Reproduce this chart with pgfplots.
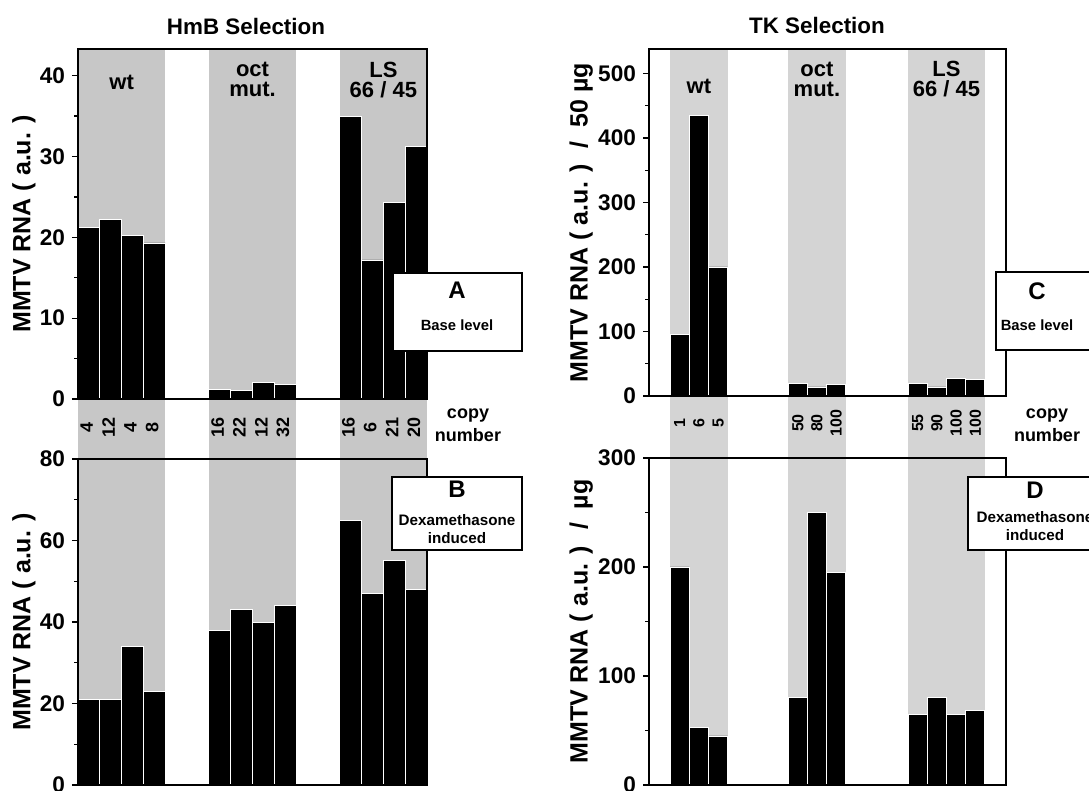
\documentclass[border=0pt]{standalone}
\usepackage{fontspec}
\setmainfont{Liberation Sans}
\usepackage{pgfplots}
\pgfplotsset{compat=1.18}
\newcommand\fs[2]{\fontsize{#1}{#2}\selectfont\bfseries}
\pgfplotsset{
  panel/.style={
    scale only axis, anchor=south west, clip=false, axis on top,
    xmin=0, ymin=0, xtick=\empty, ytick pos=left, tick align=outside,
    major tick length=3pt, minor tick length=1.8pt, minor y tick num=1,
    axis line style={line width=0.7pt},
    tick style={black, line width=0.6pt},
    /pgf/number format/assume math mode=true,
    yticklabel style={font=\fs{11.3}{13}},
    ylabel style={font=\fs{12.5}{14}, anchor=center},
  },
  shL/.style={fill=black!22, draw=none, forget plot},
  shR/.style={fill=black!17, draw=none, forget plot},
  bars/.style={ybar, bar width=1, bar shift=0pt, fill=black, draw=white, line width=0.4pt},
}
\tikzset{
  grp/.style={font=\fs{11}{10}, align=center},
  cnL/.style={font=\fs{9}{11}, rotate=90},
  cnR/.style={font=\fs{8}{10}, rotate=90},
}
\begin{document}
\begin{tikzpicture}
% ---------------- Panel A ----------------
\begin{axis}[panel, at={(39pt,196pt)}, width=174.5pt, height=175pt,
  xmax=16, ymax=43.3, ytick={0,10,20,30,40},
  ylabel={MMTV RNA ( a.u. )}, ylabel style={at={(axis description cs:-0.155,0.5)}}]
\addplot[shL] coordinates {(0,-7.43) (4,-7.43) (4,43.3) (0,43.3)} -- cycle;
\addplot[shL] coordinates {(6,-7.43) (10,-7.43) (10,43.3) (6,43.3)} -- cycle;
\addplot[shL] coordinates {(12,-7.43) (16,-7.43) (16,43.3) (12,43.3)} -- cycle;
\addplot[bars] coordinates {(0.5,21.2) (1.5,22.2) (2.5,20.2) (3.5,19.3)
  (6.5,1.2) (7.5,1.1) (8.5,2.1) (9.5,1.8)
  (12.5,35) (13.5,17.2) (14.5,24.3) (15.5,31.2)};
\node[grp] at (axis cs:2,39.2) {wt};
\node[grp] at (axis cs:8,39.5) {oct\\mut.};
\node[grp] at (axis cs:14,39.5) {LS\\66 / 45};
\node[cnL] at (axis cs:0.4,-3.5) {4};
\node[cnL] at (axis cs:1.4,-3.5) {12};
\node[cnL] at (axis cs:2.4,-3.5) {4};
\node[cnL] at (axis cs:3.4,-3.5) {8};
\node[cnL] at (axis cs:6.4,-3.5) {16};
\node[cnL] at (axis cs:7.4,-3.5) {22};
\node[cnL] at (axis cs:8.4,-3.5) {12};
\node[cnL] at (axis cs:9.4,-3.5) {32};
\node[cnL] at (axis cs:12.4,-3.5) {16};
\node[cnL] at (axis cs:13.4,-3.5) {6};
\node[cnL] at (axis cs:14.4,-3.5) {21};
\node[cnL] at (axis cs:15.4,-3.5) {20};
\end{axis}
% ---------------- Panel B ----------------
\begin{axis}[panel, at={(39pt,3pt)}, width=174.5pt, height=163pt,
  xmax=16, ymax=80, ytick={0,20,40,60,80},
  ylabel={MMTV RNA ( a.u. )}, ylabel style={at={(axis description cs:-0.155,0.5)}}]
\addplot[shL] coordinates {(0,0) (4,0) (4,80) (0,80)} -- cycle;
\addplot[shL] coordinates {(6,0) (10,0) (10,80) (6,80)} -- cycle;
\addplot[shL] coordinates {(12,0) (16,0) (16,80) (12,80)} -- cycle;
\addplot[bars] coordinates {(0.5,21) (1.5,21) (2.5,34) (3.5,23)
  (6.5,38) (7.5,43) (8.5,40) (9.5,44)
  (12.5,65) (13.5,47) (14.5,55) (15.5,48)};
\end{axis}
% ---------------- Panel C ----------------
\begin{axis}[panel, at={(324.5pt,197.5pt)}, width=178.5pt, height=173.5pt,
  xmax=18.6, ymax=538, ytick={0,100,200,300,400,500},
  ylabel={MMTV RNA ( a.u. ) \ / \ 50 µg}, ylabel style={at={(axis description cs:-0.19,0.5)}}]
\addplot[shR] coordinates {(1.1,-96) (4.1,-96) (4.1,538) (1.1,538)} -- cycle;
\addplot[shR] coordinates {(7.25,-96) (10.25,-96) (10.25,538) (7.25,538)} -- cycle;
\addplot[shR] coordinates {(13.5,-96) (17.5,-96) (17.5,538) (13.5,538)} -- cycle;
\addplot[bars] coordinates {(1.6,95) (2.6,435) (3.6,200)
  (7.75,19) (8.75,14) (9.75,18)
  (14,20) (15,14) (16,27) (17,26)};
\node[grp] at (axis cs:2.6,480) {wt};
\node[grp] at (axis cs:8.75,491) {oct\\mut.};
\node[grp] at (axis cs:15.5,491) {LS\\66 / 45};
\node[cnR] at (axis cs:1.6,-41.9) {1};
\node[cnR] at (axis cs:2.6,-41.9) {6};
\node[cnR] at (axis cs:3.6,-41.9) {5};
\node[cnR] at (axis cs:7.75,-41.9) {50};
\node[cnR] at (axis cs:8.75,-41.9) {80};
\node[cnR] at (axis cs:9.75,-41.9) {100};
\node[cnR] at (axis cs:14,-41.9) {55};
\node[cnR] at (axis cs:15,-41.9) {90};
\node[cnR] at (axis cs:16,-41.9) {100};
\node[cnR] at (axis cs:17,-41.9) {100};
\end{axis}
% ---------------- Panel D ----------------
\begin{axis}[panel, at={(324.5pt,3pt)}, width=178.5pt, height=163.5pt,
  xmax=18.6, ymax=300, ytick={0,100,200,300},
  ylabel={MMTV RNA ( a.u. ) \ / \ µg}, ylabel style={at={(axis description cs:-0.19,0.5)}}]
\addplot[shR] coordinates {(1.1,0) (4.1,0) (4.1,300) (1.1,300)} -- cycle;
\addplot[shR] coordinates {(7.25,0) (10.25,0) (10.25,300) (7.25,300)} -- cycle;
\addplot[shR] coordinates {(13.5,0) (17.5,0) (17.5,300) (13.5,300)} -- cycle;
\addplot[bars] coordinates {(1.6,200) (2.6,53) (3.6,45)
  (7.75,80) (8.75,250) (9.75,195)
  (14,65) (15,80) (16,65) (17,68)};
\end{axis}
% ---------------- texts and boxes ----------------
\node[font=\fs{11.2}{13}] at (123pt,382pt) {HmB Selection};
\node[font=\fs{11.2}{13}] at (408.5pt,382.5pt) {TK Selection};
\node[font=\fs{9}{11.5}, align=center] at (234pt,182.7pt) {copy\\number};
\node[font=\fs{9}{11.5}, align=center] at (523.5pt,182.7pt) {copy\\number};
\draw[fill=white, line width=0.7pt] (196.5pt,220pt) rectangle (261pt,259pt);
\node[font=\fs{12}{14}] at (228.5pt,250.5pt) {A};
\node[font=\fs{7.4}{9}] at (228.5pt,233pt) {Base level};
\draw[fill=white, line width=0.7pt] (196pt,120.5pt) rectangle (261pt,157pt);
\node[font=\fs{12}{14}] at (228.5pt,151pt) {B};
\node[font=\fs{7.6}{8.6}, align=center] at (228.5pt,131pt) {Dexamethasone\\induced};
\draw[fill=white, line width=0.7pt] (498pt,220.5pt) rectangle (552pt,259.5pt);
\node[font=\fs{12}{14}] at (518.5pt,250pt) {C};
\node[font=\fs{7.4}{9}] at (518.5pt,233pt) {Base level};
\draw[fill=white, line width=0.7pt] (484pt,120.5pt) rectangle (552pt,157pt);
\node[font=\fs{12}{14}] at (517.5pt,150.5pt) {D};
\node[font=\fs{7.6}{8.6}, align=center] at (517.5pt,132.5pt) {Dexamethasone\\induced};
\pgfresetboundingbox
\useasboundingbox (0,0) rectangle (544.5pt,395.5pt);
\end{tikzpicture}
\end{document}
